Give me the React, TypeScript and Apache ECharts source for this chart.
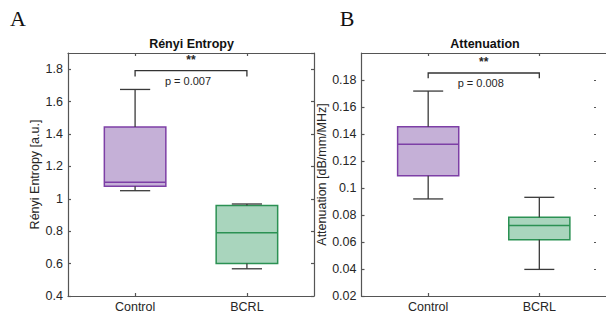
import React, { useEffect, useRef } from "react";
import * as echarts from "echarts";

// ---- data ----
const categories = ["Control", "BCRL"];
const panelTitles = ["Rényi Entropy", "Attenuation"];
const panelLetters = ["A", "B"];
const yAxisNames = ["Rényi Entropy [a.u.]", "Attenuation [dB/mm/MHz]"];
// box statistics per category: [min, q1, median, q3, max]
const entropyBoxes = [
  [1.05, 1.077, 1.102, 1.443, 1.675],
  [0.568, 0.601, 0.791, 0.958, 0.968],
];
const attenuationBoxes = [
  [0.0919, 0.1091, 0.1325, 0.1453, 0.1718],
  [0.0397, 0.0616, 0.0722, 0.0783, 0.0931],
];
const entropyRange = [0.4, 1.9];
const entropyStep = 0.2;
const attenuationRange = [0.02, 0.2];
const attenuationStep = 0.02;
const pLabels = ["p = 0.007", "p = 0.008"];
const starLabels = ["**", "**"];
// significance bracket: [level, leg end]
const entropyBracket = [1.791, 1.755];
const attenuationBracket = [0.1852, 0.1813];

// ---- styles ----
const FONT = "Liberation Sans, Arial, Helvetica, sans-serif";
const AXIS_COLOR = "#555555";
const TEXT_COLOR = "#262626";
const fills = ["#c5b0d7", "#a9d5bd"];
const edges = ["#7d3fa6", "#2b9153"];
const WHISKER = "#3a3a3a";
const BOX_W = 0.55;
const CAP_W = 0.27;

function boxRender(params: any, api: any) {
  const i = params.dataIndex;
  const x = api.value(0);
  const mn = api.value(1);
  const q1 = api.value(2);
  const md = api.value(3);
  const q3 = api.value(4);
  const mx = api.value(5);
  const hw = BOX_W / 2;
  const cw = CAP_W / 2;
  const [xl, yq3] = api.coord([x - hw, q3]);
  const [xr, yq1] = api.coord([x + hw, q1]);
  const [xc, ymd] = api.coord([x, md]);
  const [, ymn] = api.coord([x, mn]);
  const [, ymx] = api.coord([x, mx]);
  const [cl] = api.coord([x - cw, mn]);
  const [cr] = api.coord([x + cw, mn]);
  const wStyle = { stroke: WHISKER, lineWidth: 1.3 };
  return {
    type: "group",
    children: [
      {
        type: "rect",
        shape: { x: xl, y: yq3, width: xr - xl, height: yq1 - yq3 },
        style: { fill: fills[i], stroke: edges[i], lineWidth: 1.5 },
      },
      { type: "line", shape: { x1: xc, y1: yq3, x2: xc, y2: ymx }, style: wStyle },
      { type: "line", shape: { x1: xc, y1: yq1, x2: xc, y2: ymn }, style: wStyle },
      { type: "line", shape: { x1: cl, y1: ymx, x2: cr, y2: ymx }, style: wStyle },
      { type: "line", shape: { x1: cl, y1: ymn, x2: cr, y2: ymn }, style: wStyle },
      {
        type: "line",
        shape: { x1: xl, y1: ymd, x2: xr, y2: ymd },
        style: { stroke: edges[i], lineWidth: 1.5 },
      },
    ],
  };
}

function bracketRender(panel: number) {
  return (params: any, api: any) => {
    const level = api.value(2);
    const leg = api.value(3);
    const [x1, yl] = api.coord([api.value(0), level]);
    const [x2] = api.coord([api.value(1), level]);
    const [, yLeg] = api.coord([api.value(0), leg]);
    const xm = (x1 + x2) / 2;
    return {
      type: "group",
      children: [
        {
          type: "polyline",
          shape: { points: [[x1, yLeg], [x1, yl], [x2, yl], [x2, yLeg]] },
          style: { stroke: "#333333", lineWidth: 1.3, fill: "none" },
        },
        {
          type: "text",
          x: xm,
          y: yl - 11,
          style: {
            text: starLabels[panel],
            fill: TEXT_COLOR,
            font: `bold 12px ${FONT}`,
            align: "center",
            verticalAlign: "middle",
          },
        },
        {
          type: "text",
          x: xm - 3,
          y: yl + 10,
          style: {
            text: pLabels[panel],
            fill: TEXT_COLOR,
            font: `11px ${FONT}`,
            align: "center",
            verticalAlign: "middle",
          },
        },
      ],
    };
  };
}

export default function App() {
  const ref = useRef<HTMLDivElement>(null);
  useEffect(() => {
    if (!ref.current) return;
    const chart = echarts.init(ref.current, undefined, { renderer: "svg" });

    const grids = [
      { left: 68, top: 53, width: 246, height: 243 },
      { left: 361.5, top: 53, width: 245.5, height: 243 },
    ];
    const ranges = [entropyRange, attenuationRange];
    const steps = [entropyStep, attenuationStep];
    const nameGaps = [18, 24];
    const lineStyle = { color: AXIS_COLOR, width: 1.2 };

    const xAxis: any[] = [];
    const yAxis: any[] = [];
    [0, 1].forEach((g) => {
      xAxis.push({
        type: "value",
        gridIndex: g,
        position: "bottom",
        min: 0.4,
        max: 2.6,
        axisLine: { show: true, lineStyle },
        axisTick: { show: true, inside: true, length: 3, customValues: [1, 2], lineStyle },
        axisLabel: {
          show: true,
          customValues: [1, 2],
          formatter: (v: number) => categories[Math.round(v) - 1] ?? "",
          color: TEXT_COLOR,
          fontFamily: FONT,
          fontSize: 12.5,
          margin: 4,
        },
        splitLine: { show: false },
      });
      xAxis.push({
        type: "value",
        gridIndex: g,
        position: "top",
        min: 0.4,
        max: 2.6,
        axisLine: { show: true, lineStyle },
        axisTick: { show: true, inside: true, length: 3, customValues: [1, 2], lineStyle },
        axisLabel: { show: false },
        splitLine: { show: false },
      });
      yAxis.push({
        type: "value",
        gridIndex: g,
        position: "left",
        min: ranges[g][0],
        max: ranges[g][1],
        interval: steps[g],
        name: yAxisNames[g],
        nameLocation: "middle",
        nameGap: nameGaps[g],
        nameTextStyle: { color: TEXT_COLOR, fontFamily: FONT, fontSize: 12.5 },
        axisLine: { show: true, lineStyle },
        axisTick: { show: true, inside: true, length: 3, lineStyle },
        axisLabel: {
          color: TEXT_COLOR,
          fontFamily: FONT,
          fontSize: 12.5,
          margin: 5,
          showMaxLabel: false,
        },
        splitLine: { show: false },
      });
      yAxis.push({
        type: "value",
        gridIndex: g,
        position: "right",
        offset: g === 1 ? -10 : 0,
        min: ranges[g][0],
        max: ranges[g][1],
        interval: steps[g],
        axisLine: { show: g === 0, lineStyle },
        axisTick: { show: true, inside: true, length: g === 1 ? 2 : 3, lineStyle },
        axisLabel: { show: false },
        splitLine: { show: false },
      });
    });

    const boxes = [entropyBoxes, attenuationBoxes];
    const brackets = [entropyBracket, attenuationBracket];
    const series: any[] = [];
    [0, 1].forEach((g) => {
      series.push({
        type: "custom",
        xAxisIndex: g * 2,
        yAxisIndex: g * 2,
        renderItem: boxRender,
        encode: { x: 0, y: [1, 2, 3, 4, 5] },
        data: boxes[g].map((b, i) => [i + 1, ...b]),
        clip: false,
        silent: true,
      });
      series.push({
        type: "custom",
        xAxisIndex: g * 2,
        yAxisIndex: g * 2,
        renderItem: bracketRender(g),
        encode: { x: [0, 1], y: [2, 3] },
        data: [[1, 2, brackets[g][0], brackets[g][1]]],
        clip: false,
        silent: true,
      });
    });

    const titleX = [191.5, 485];
    const letterX = [18, 347];
    const graphic: any[] = [];
    [0, 1].forEach((g) => {
      graphic.push({
        type: "text",
        x: titleX[g],
        y: 43.5,
        style: {
          text: panelTitles[g],
          fill: "#111111",
          font: `bold 12.5px ${FONT}`,
          align: "center",
          verticalAlign: "middle",
        },
      });
      graphic.push({
        type: "text",
        x: letterX[g],
        y: 18,
        style: {
          text: panelLetters[g],
          fill: "#111111",
          font: `22px "Liberation Serif", "DejaVu Serif", serif`,
          align: "center",
          verticalAlign: "middle",
        },
      });
    });

    chart.setOption({
      animation: false,
      backgroundColor: "#ffffff",
      grid: grids,
      xAxis,
      yAxis,
      series,
      graphic,
    });
    return () => chart.dispose();
  }, []);
  return (
    <div
      ref={ref}
      style={{ position: "absolute", left: 0, top: 0, width: 606, height: 320 }}
    />
  );
}
